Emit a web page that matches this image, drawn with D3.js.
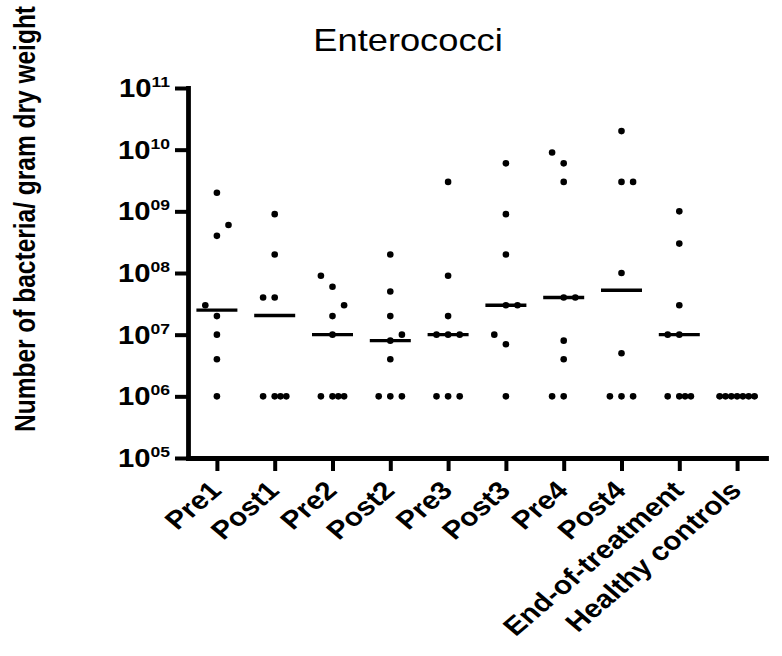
<!DOCTYPE html>
<html>
<head>
<meta charset="utf-8">
<script src="https://cdn.jsdelivr.net/npm/d3@7"></script>
<style>
  body { margin: 0; background: #fff; }
  svg { display: block; }
  text { font-family: "Liberation Sans", Arial, sans-serif; fill: #000; }
</style>
</head>
<body>
<div id="chart"></div>
<script>
// groups on the x axis
const categories = [
  "Pre1", "Post1", "Pre2", "Post2", "Pre3",
  "Post3", "Pre4", "Post4", "End-of-treatment", "Healthy controls"
];

// bacteria / gram dry weight, one array per group
const pre1 = [2e9, 6e8, 4e8, 3e7, 2e7, 1e7, 4e6, 1e6];
const post1 = [9e8, 2e8, 4e7, 4e7, 1e6, 1e6, 1e6, 1e6];
const pre2 = [9e7, 6e7, 3e7, 2e7, 1e7, 1e6, 1e6, 1e6, 1e6];
const post2 = [2e8, 5e7, 2e7, 1e7, 8e6, 4e6, 1e6, 1e6, 1e6];
const pre3 = [3e9, 9e7, 2e7, 1e7, 1e7, 1e7, 1e6, 1e6, 1e6];
const post3 = [6e9, 9e8, 2e8, 3e7, 3e7, 1e7, 7e6, 1e6];
const pre4 = [9e9, 6e9, 3e9, 4e7, 4e7, 8e6, 4e6, 1e6, 1e6];
const post4 = [2e10, 3e9, 3e9, 1e8, 5e6, 1e6, 1e6, 1e6];
const endOfTreatment = [1e9, 3e8, 3e7, 1e7, 1e7, 1e6, 1e6, 1e6, 1e6];
const healthyControls = [1e6, 1e6, 1e6, 1e6, 1e6, 1e6, 1e6];

const seriesValues = [pre1, post1, pre2, post2, pre3, post3, pre4, post4, endOfTreatment, healthyControls];

const yTickValues = [1e5, 1e6, 1e7, 1e8, 1e9, 1e10, 1e11];

const title = "Enterococci";
const yTitle = "Number of bacteria/ gram dry weight";

const W = 782, H = 656;
const stretch = 1.17; // the original figure is slightly wider than tall

const svg = d3.select("#chart").append("svg")
  .attr("width", W)
  .attr("height", H);

const x = d3.scalePoint().domain(categories).range([188, 766]).padding(0.5);
const y = d3.scaleLog().domain([1e5, 1e11]).range([458, 88]);

// title
svg.append("text")
  .attr("transform", `translate(408, 51) scale(${stretch}, 1)`)
  .attr("text-anchor", "middle")
  .style("font-size", "31px")
  .text(title);

// y axis title
svg.append("text")
  .attr("transform", `translate(35, 219) scale(${stretch}, 1) rotate(-90)`)
  .attr("text-anchor", "middle")
  .style("font-size", "24.5px")
  .style("font-weight", "bold")
  .text(yTitle);

// y axis
const yAxis = svg.append("g")
  .attr("transform", "translate(188, 0)")
  .call(d3.axisLeft(y).tickValues(yTickValues).tickSize(13).tickSizeOuter(0).tickFormat(""));

// x axis
const xAxis = svg.append("g")
  .attr("transform", "translate(0, 458)")
  .call(d3.axisBottom(x).tickSize(13).tickSizeOuter(0).tickFormat(""));

[yAxis, xAxis].forEach((g) => {
  g.select(".domain").attr("stroke", "#000").attr("stroke-width", 4.8).attr("stroke-linecap", "square");
  g.selectAll(".tick line").attr("stroke", "#000").attr("stroke-width", 4);
});

// y tick labels: 10 with a two-digit exponent
svg.append("g").selectAll("text")
  .data(yTickValues)
  .join("text")
  .attr("transform", (d) => `translate(170, ${y(d) + 9}) scale(${stretch}, 1)`)
  .attr("text-anchor", "end")
  .style("font-weight", "bold")
  .each(function (d) {
    const e = Math.round(Math.log10(d));
    const t = d3.select(this);
    t.append("tspan").style("font-size", "25px").text("10");
    t.append("tspan").style("font-size", "15px").attr("dy", -10).text(String(e).padStart(2, "0"));
  });

// x tick labels
svg.append("g").selectAll("text")
  .data(categories)
  .join("text")
  .attr("transform", (d) => `translate(${x(d) + 6}, 492) scale(${stretch}, 1) rotate(-45)`)
  .attr("text-anchor", "end")
  .style("font-size", "25.5px")
  .style("font-weight", "bold")
  .text((d) => d);

// column scatter: equal values are spread sideways, close values are nudged
const unit = 11.6;
const minGap = 14;
let side = -1;

function layoutColumn(values) {
  const placed = [];
  const groups = d3.groups(values.slice().sort(d3.ascending), (d) => d);
  groups.forEach(([v, arr]) => {
    const py = y(v);
    const n = arr.length;
    let slots;
    if (n === 1) {
      const hit = placed.some((p) => p.slot === 0 && Math.abs(p.py - py) < minGap);
      if (hit) { slots = [side]; side = -side; } else slots = [0];
    } else if (n === 2) {
      slots = [0, side]; side = -side;
    } else if (n === 3) {
      slots = [-1, 0, 1];
    } else if (n === 4) {
      slots = [-1, 0, 0.5, 1];
    } else {
      slots = d3.range(n).map((i) => -1.5 + (3 * i) / (n - 1));
    }
    slots.forEach((s) => placed.push({ v, py, slot: s }));
  });
  return placed;
}

const plot = svg.append("g");

seriesValues.forEach((vals, i) => {
  const cx = x(categories[i]);
  const pts = layoutColumn(vals);

  plot.append("g").selectAll("circle")
    .data(pts)
    .join("circle")
    .attr("cx", (d) => cx + d.slot * unit)
    .attr("cy", (d) => d.py)
    .attr("r", 3.3)
    .attr("fill", "#000");

  const med = d3.median(vals);
  plot.append("line")
    .attr("x1", cx - 20.5)
    .attr("x2", cx + 20.5)
    .attr("y1", y(med))
    .attr("y2", y(med))
    .attr("stroke", "#000")
    .attr("stroke-width", 3.4);
});
</script>
</body>
</html>
